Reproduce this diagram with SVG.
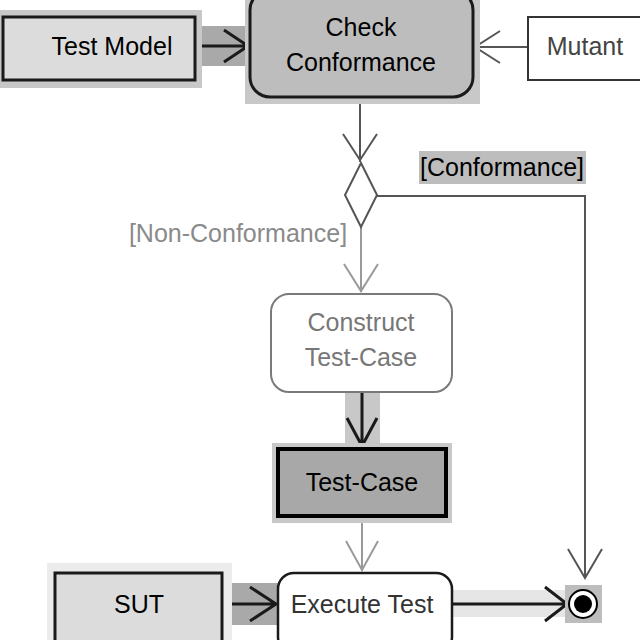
<svg xmlns="http://www.w3.org/2000/svg" width="640" height="640" viewBox="0 0 640 640">
<defs>
<style>
text{font-family:"Liberation Sans",Arial,sans-serif;font-size:25px;text-anchor:middle}
.hl{fill:#c8c8c8}
.dk{stroke:#1a1a1a;stroke-width:3;fill:none}
.lt{stroke:#9a9a9a;stroke-width:2;fill:none}
.md{stroke:#555;stroke-width:2;fill:none}
</style>
</defs>
<rect width="640" height="640" fill="#fff"/>
<g id="connectors">
<rect x="195" y="26" width="55" height="40" fill="#a9a9a9"/>
<path class="dk" d="M195 46H248M224 30L248 46L224 62"/>
<path class="md" d="M528 47H475M500 31L475 47L500 63"/>
<path class="md" d="M360 97V162M343 134L360 160L377 134"/>
<path class="md" d="M377 196H585V578M568 549L585 578L602 549"/>
<path class="lt" d="M361 227V292M344 264L361 291L378 264"/>
<rect x="345" y="393" width="35" height="53" fill="#c8c8c8"/>
<path class="dk" d="M362 393V446M347 418L362 446L377 418"/>
<path class="lt" d="M362 518V571M346 541L362 570L378 541"/>
<rect x="222" y="583" width="56" height="42" fill="#a9a9a9"/>
<path class="dk" d="M222 604H276M250 587L276 604L250 621"/>
<rect x="452" y="590" width="115" height="27" fill="#e6e6e6"/>
<path class="dk" d="M452 604H567M545 587L567 604L545 621"/>
</g>
<g id="test-model">
<rect x="0" y="10" width="202" height="78" class="hl"/>
<rect x="3" y="17" width="192" height="63" fill="#dcdcdc" stroke="#1a1a1a" stroke-width="3"/>
<text x="112" y="55" font-size="27">Test Model</text>
</g>
<g id="check-conformance">
<rect x="245" y="0" width="235" height="104" class="hl"/>
<rect x="250" y="-10" width="223" height="107" rx="20" fill="#bdbdbd" stroke="#1a1a1a" stroke-width="3"/>
<text x="361" y="36">Check</text>
<text x="361" y="71">Conformance</text>
</g>
<g id="mutant">
<rect x="528" y="17" width="115" height="63" fill="#fff" stroke="#333" stroke-width="2"/>
<text x="585" y="55" fill="#444">Mutant</text>
</g>
<g id="decision">
<path d="M361 163L377 195L361 227L345 195Z" fill="#fff" stroke="#555" stroke-width="2"/>
</g>
<g id="label-conformance">
<rect x="419" y="151" width="167" height="33" fill="#bdbdbd"/>
<text x="502" y="176">[Conformance]</text>
</g>
<g id="label-nonconformance">
<text x="238" y="242" fill="#8a8a8a">[Non-Conformance]</text>
</g>
<g id="construct">
<rect x="271" y="294" width="181" height="98" rx="18" fill="#fff" stroke="#7a7a7a" stroke-width="2"/>
<text x="361" y="331" fill="#777">Construct</text>
<text x="361" y="366" fill="#777">Test-Case</text>
</g>
<g id="test-case">
<rect x="272" y="443" width="180" height="80" class="hl"/>
<rect x="278" y="449" width="168" height="67" fill="#a8a8a8" stroke="#000" stroke-width="4"/>
<text x="362" y="491">Test-Case</text>
</g>
<g id="sut">
<rect x="47" y="563" width="185" height="80" fill="#ececec"/>
<rect x="55" y="573" width="167" height="75" fill="#dcdcdc" stroke="#1a1a1a" stroke-width="3"/>
<text x="139" y="613">SUT</text>
</g>
<g id="execute-test">
<rect x="278" y="573" width="174" height="80" rx="16" fill="#fff" stroke="#1a1a1a" stroke-width="2.5"/>
<text x="362" y="613" fill="#333">Execute Test</text>
</g>
<g id="final">
<rect x="565" y="585" width="37" height="38" fill="#bdbdbd"/>
<circle cx="583" cy="604" r="14" fill="#fff" stroke="#000" stroke-width="2"/>
<circle cx="583" cy="604" r="9" fill="#000"/>
</g>
</svg>
